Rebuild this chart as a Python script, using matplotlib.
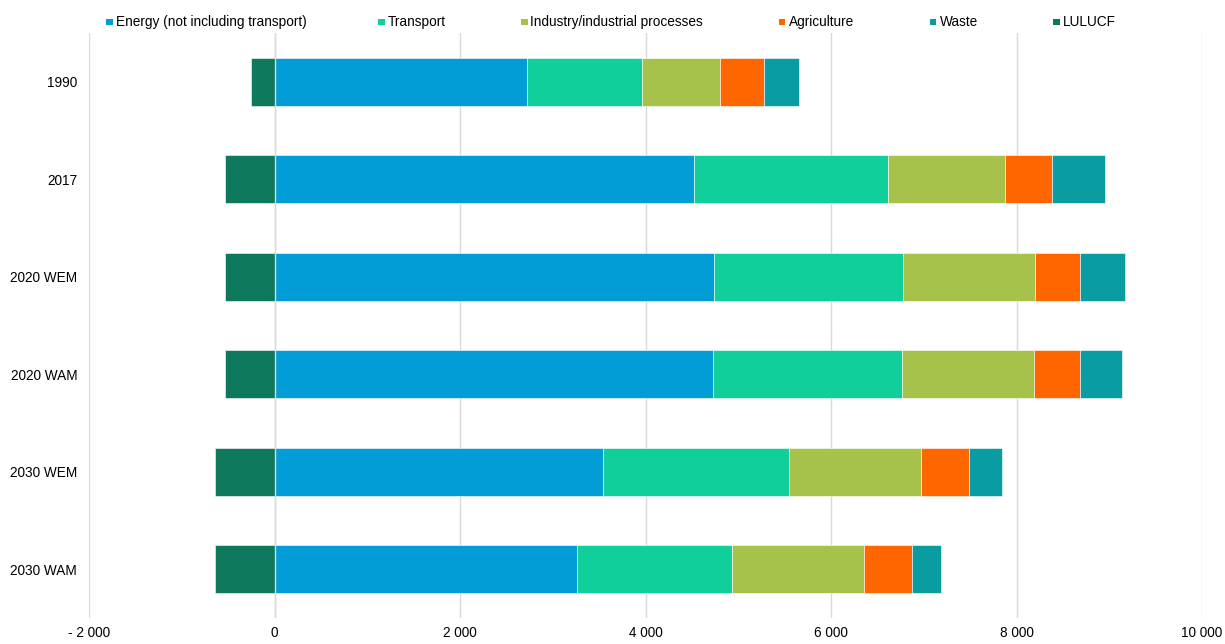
import matplotlib
matplotlib.use("Agg")
import matplotlib.pyplot as plt
from matplotlib.patches import Rectangle
import numpy as np
from matplotlib.ticker import FuncFormatter

plt.rcParams['font.family'] = ['Liberation Sans', 'DejaVu Sans']

categories = ["1990", "2017", "2020 WEM", "2020 WAM", "2030 WEM", "2030 WAM"]
series_names = ["Energy (not including transport)", "Transport", "Industry/industrial processes",
                "Agriculture", "Waste", "LULUCF"]
energy = [2720, 4520, 4735, 4725, 3540, 3260]
transport = [1240, 2090, 2045, 2045, 2010, 1670]
industry = [840, 1270, 1415, 1420, 1420, 1430]
agriculture = [475, 500, 485, 493, 516, 518]
waste = [385, 570, 492, 450, 359, 305]
lulucf = [-255, -536, -530, -530, -640, -640]
colors = ["#029cd6", "#11cf9b", "#a6c24a", "#ff6600", "#099ca1", "#0e785c"]

W, H = 1225, 644
fs = 9.8
fig = plt.figure(figsize=(W/100, H/100), dpi=100)
ax = fig.add_axes([89/W, 1-618/H, (1202-89)/W, (618-33)/H])

y = np.arange(len(categories))
h = 0.49
left = np.zeros(len(categories))
pos_series = [energy, transport, industry, agriculture, waste]
for vals, name, c in zip(pos_series, series_names[:5], colors[:5]):
    ax.barh(y, vals, left=left, height=h, color=c, edgecolor='white', linewidth=0.4, label=name, zorder=3)
    left = left + np.array(vals)
ax.barh(y, lulucf, left=0, height=h, color=colors[5], edgecolor='white', linewidth=0.4, label=series_names[5], zorder=3)

ax.set_xlim(-2000, 10000)
ax.set_ylim(len(categories) - 0.5, -0.5)
ax.set_xticks(np.arange(-2000, 10001, 2000))

def fmt(v, pos):
    v = int(round(v))
    s = f"{abs(v):,}".replace(",", " ")
    return ("- " + s) if v < 0 else s
ax.xaxis.set_major_formatter(FuncFormatter(fmt))
ax.set_yticks(y)
ax.set_yticklabels(categories)
ax.grid(axis='x', color='#d9d9d9', linewidth=1, zorder=0)
ax.axvline(0, color='#d9d9d9', linewidth=1, zorder=4)
for s in ax.spines.values():
    s.set_visible(False)
ax.tick_params(axis='both', length=0, labelsize=fs, colors='#000000')
ax.tick_params(axis='x', pad=6)
ax.tick_params(axis='y', pad=8.5)

# legend entries placed along the top
marker_x = [106, 378, 521, 779, 930, 1053]
ly = 22
sz = 6.5
for mx, name, c in zip(marker_x, series_names, colors):
    fig.patches.append(Rectangle((mx/W, 1-(ly+sz/2)/H), sz/W, sz/H, transform=fig.transFigure,
                                 facecolor=c, edgecolor='none'))
    fig.text((mx+sz+3)/W, 1-ly/H, name, ha='left', va='center', fontsize=fs, color='#000000')

fig.savefig("out.png", dpi=100)
